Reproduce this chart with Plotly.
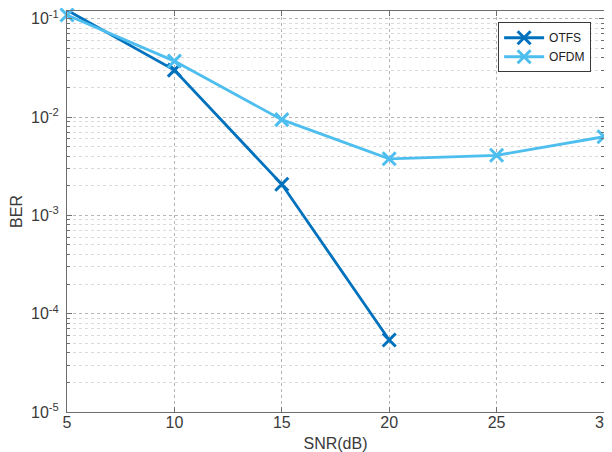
import plotly.graph_objects as go

snr_otfs = [5, 10, 15, 20]
ber_otfs = [0.122, 0.030, 0.00207, 5.4e-5]
snr_ofdm = [5, 10, 15, 20, 25, 30]
ber_ofdm = [0.109, 0.037, 0.0094, 0.00376, 0.00408, 0.0063]

y_tick_vals = [1e-5, 1e-4, 1e-3, 1e-2, 1e-1]
y_tick_text = ["10<sup>-5</sup>", "10<sup>-4</sup>", "10<sup>-3</sup>", "10<sup>-2</sup>", "10<sup>-1</sup>"]
x_tick_vals = [5, 10, 15, 20, 25, 30]

# minor log ticks (2..9 within each decade)
y_minor_vals = [d * m for d in y_tick_vals for m in range(2, 10) if d * m < 0.12]

fig = go.Figure()
fig.add_trace(go.Scatter(
    x=snr_otfs, y=ber_otfs, name="OTFS", mode="lines+markers", cliponaxis=False,
    line=dict(color="#0072BD", width=2.8),
    marker=dict(symbol="x-thin", size=13, line=dict(color="#0072BD", width=3)),
))
fig.add_trace(go.Scatter(
    x=snr_ofdm, y=ber_ofdm, name="OFDM", mode="lines+markers", cliponaxis=False,
    line=dict(color="#4DBEEE", width=2.8),
    marker=dict(symbol="x-thin", size=13, line=dict(color="#4DBEEE", width=3)),
))

axis_color = "#6e6e6e"
# page body has an 8px default margin, so the figure is sized 604x444
fig.update_layout(
    width=604, height=444,
    margin=dict(l=59, r=8, t=3, b=40, autoexpand=False),
    paper_bgcolor="white", plot_bgcolor="white",
    font=dict(family="Liberation Sans, Arial, sans-serif", size=16, color="#3a3a3a"),
    showlegend=True,
    legend=dict(
        x=0.976, y=0.972, xanchor="right", yanchor="top",
        bgcolor="white", bordercolor="#3a3a3a", borderwidth=1,
        font=dict(size=12, color="#202020"),
        tracegroupgap=0, itemwidth=40,
    ),
)
fig.update_xaxes(
    range=[5, 30], tickvals=x_tick_vals, ticklabeloverflow="allow", automargin=False,
    showline=True, linecolor=axis_color, linewidth=1, mirror="ticks",
    ticks="inside", ticklen=5, tickcolor=axis_color,
    showgrid=True, gridcolor="#b5b5b5", griddash="dot", gridwidth=1,
    zeroline=False, tickfont=dict(size=16), ticklabelstandoff=-4,
    title=dict(text="SNR(dB)", standoff=10, font=dict(size=16)),
)
fig.update_yaxes(
    type="log", range=[-5, -0.922], automargin=False, ticklabeloverflow="allow",
    tickvals=y_tick_vals, ticktext=y_tick_text,
    showline=True, linecolor=axis_color, linewidth=1, mirror="ticks",
    ticks="inside", ticklen=5, tickcolor=axis_color,
    showgrid=True, gridcolor="#b5b5b5", griddash="dot", gridwidth=1,
    minor=dict(tickmode="array", tickvals=y_minor_vals,
               ticks="inside", ticklen=3, tickcolor=axis_color,
               showgrid=True, gridcolor="#dadada", griddash="dot", gridwidth=1),
    zeroline=False, tickfont=dict(size=16), ticklabelstandoff=4,
    title=dict(text="BER", standoff=18, font=dict(size=16)),
)

fig.write_html("out.html")
